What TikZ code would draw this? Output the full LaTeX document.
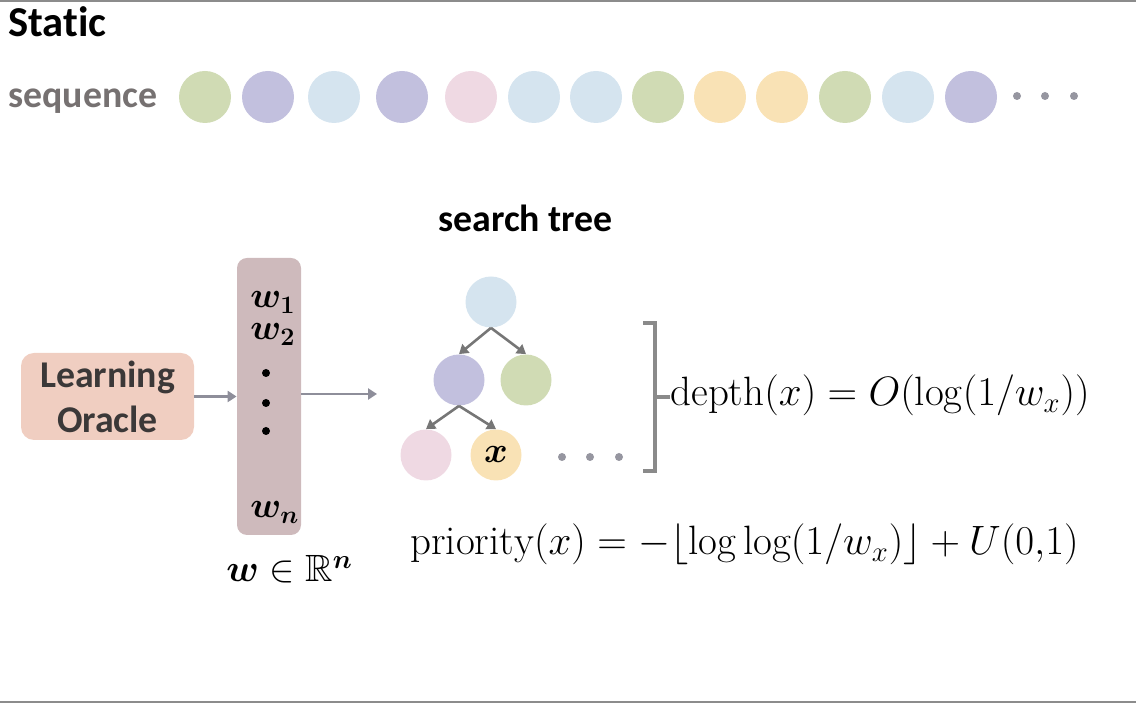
\RequirePackage{fix-cm}
\documentclass[tikz,border=0pt]{standalone}
\usepackage{amsmath,amssymb}
\usepackage{fontspec}
\newfontfamily\carlito[Ligatures=NoCommon]{Carlito}
\usetikzlibrary{arrows.meta}
\definecolor{cgreen}{HTML}{D0DBB4}
\definecolor{cpurple}{HTML}{C2C0DE}
\definecolor{cblue}{HTML}{D5E4EF}
\definecolor{cpink}{HTML}{EFD9E3}
\definecolor{corange}{HTML}{F9E2B5}
\definecolor{oraclefill}{HTML}{F0CEC1}
\definecolor{wfill}{HTML}{CEBABC}
\definecolor{darktext}{HTML}{3B3838}
\definecolor{seqgray}{HTML}{767171}
\definecolor{arrgray}{HTML}{8E8E9A}
\definecolor{treegray}{HTML}{767676}
\definecolor{brkgray}{HTML}{8A8A8A}
\definecolor{dotgray}{HTML}{9696A0}
\definecolor{linegray}{HTML}{8C8C8C}
\tikzset{
  seqc/.style={circle, minimum size=26pt, inner sep=0pt, draw=none},
  tnode/.style={circle, minimum size=25.5pt, inner sep=0pt, draw=none},
  gdot/.style={circle, fill=dotgray, minimum size=4pt, inner sep=0pt},
  bdot/.style={circle, fill=black, minimum size=4pt, inner sep=0pt},
  arr/.style={draw=arrgray, line width=1.4pt, -{Triangle[length=4.5pt,width=5.5pt]}},
  tarr/.style={draw=treegray, line width=1.3pt, -{Triangle[length=4.5pt,width=5.5pt]}},
  brk/.style={draw=brkgray, line width=1.8pt},
  lbl/.style={anchor=base west, inner sep=0pt},
  sfb/.style={font=\carlito\bfseries\fontsize{#1}{#1}\selectfont},
  mth/.style={font=\fontsize{#1}{#1}\selectfont},
  bmth/.style={font=\boldmath\fontsize{18}{16}\selectfont},
}
\begin{document}
\begin{tikzpicture}[x=0.5pt,y=-0.5pt]
\useasboundingbox (0,0) rectangle (1136,704);
\draw[line width=1.2pt, linegray] (0,1) -- (1136,1);
\draw[line width=1.4pt, linegray] (0,702) -- (1136,702);

\node[lbl, sfb=21.3] (static) at (8,37) {Static};
\node[lbl, sfb=18.9, text=seqgray] (seq) at (8,108) {sequence};

\foreach \x/\c [count=\i] in {205/cgreen,268/cpurple,334/cblue,402/cpurple,471/cpink,534/cblue,596/cblue,658/cgreen,720/corange,782/corange,845/cgreen,908/cblue,971/cpurple}
  \node[seqc, fill=\c] (s\i) at (\x,97) {};
\node[gdot] (sd1) at (1017,96) {};
\node[gdot] (sd2) at (1045,96) {};
\node[gdot] (sd3) at (1074,96) {};

\node[lbl, sfb=18.9] (stitle) at (438,232) {search tree};

\node[fill=oraclefill, rounded corners=6.5pt, minimum width=86.5pt, minimum height=43.5pt,
  inner sep=0pt, align=center, text=darktext, font=\carlito\bfseries\fontsize{18.9}{22.5}\selectfont]
  (oracle) at (107.5,396.5) {Learning\\Oracle};

\node[fill=wfill, rounded corners=5pt, minimum width=32pt, minimum height=138.5pt, inner sep=0pt]
  (wvec) at (269,396.5) {};
\node[lbl, bmth, align=left] (w12) at (250,340) {$w_1$\\$w_2$};
\node[bdot] (vd1) at (266,373) {};
\node[bdot] (vd2) at (266,403) {};
\node[bdot] (vd3) at (266,431) {};
\node[lbl, bmth] (wn) at (250,518) {$w_n$};
\node[lbl, mth=19] (wR) at (226,582) {$\boldsymbol{w} \in \mathbb{R}^{\boldsymbol{n}}$};

\draw[arr] (oracle.east) -- (oracle.east -| wvec.west);
\coordinate (treein) at (377,394);
\draw[arr] (wvec.east |- treein) -- (treein);

\node[tnode, fill=cblue] (root) at (491,302) {};
\node[tnode, fill=cpurple] (ta) at (459,380) {};
\node[tnode, fill=cgreen] (tb) at (526,380) {};
\node[tnode, fill=cpink] (tc) at (426,455) {};
\node[tnode, fill=corange, bmth] (tx) at (496,455) {$x$};
\draw[tarr] (root.south) -- (ta.north);
\draw[tarr] (root.south) -- (tb.north);
\draw[tarr] (ta.south) -- (tc.north);
\draw[tarr] (ta.south) -- (tx.north);
\node[gdot] (td1) at (562,457) {};
\node[gdot] (td2) at (590,457) {};
\node[gdot] (td3) at (619,457) {};

\node[lbl, mth=20.5] (depth) at (670,406) {$\mathrm{depth}(x) = O(\log(1/w_x))$};
\coordinate (bt) at (643,323);
\coordinate (bb) at (643,471);
\coordinate (bm) at (655,397);
\draw[brk] (bt) -- (bt -| bm) -- (bb -| bm) -- (bb);
\draw[brk] (bm) -- (bm -| depth.west);

\node[lbl, mth=20.5] (prio) at (410,555) {$\mathrm{priority}(x) = -\lfloor \log\log(1/w_x) \rfloor + U(0{,}1)$};
\end{tikzpicture}
\end{document}
